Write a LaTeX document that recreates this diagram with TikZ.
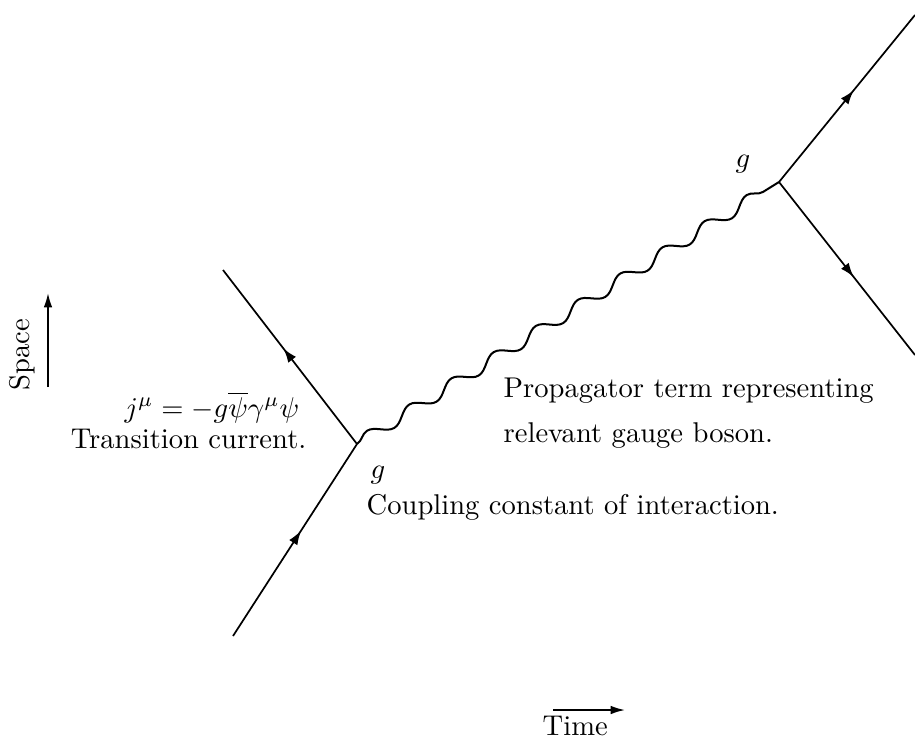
\documentclass[tikz,border=0pt]{standalone}
\usepackage{amsmath}
\usepackage{amsfonts}
\usepackage{tikz}
\usetikzlibrary{decorations.markings,decorations.pathmorphing,arrows.meta}

\tikzset{
  fermion/.style={line width=0.6pt,postaction={decorate},
    decoration={markings,mark=at position 0.55 with {\arrow{Latex[length=5pt,width=3.4pt]}}}},
  boson/.style={line width=0.7pt,decorate,
    decoration={snake,segment length=17.38pt,amplitude=2.1pt}},
  axisarrow/.style={line width=0.6pt,-{Latex[length=5pt,width=3pt]}},
  lbl/.style={inner sep=0.75pt}
}

\begin{document}
\begin{tikzpicture}[x=0.35pt,y=0.35pt,yscale=-1]
\useasboundingbox (0,0) rectangle (915,741);

%Vertices and free ends
\coordinate (vl) at (357,444);
\coordinate (vr) at (779,182);
\coordinate (inL) at (233,636);
\coordinate (outL) at (223,270);
\coordinate (outR) at (915,15);
\coordinate (outRb) at (915,355);

%Fermion lines
\draw [fermion] (inL) -- (vl);
\draw [fermion] (vl) -- (outL);
\draw [fermion] (vr) -- (outR);
\draw [fermion] (vr) -- (outRb);

%Propagator
\draw [boson] (vl) -- (vr);

% Text Node
\node [lbl,anchor=base] (gl) at (378,478) {$g$};
% Text Node
\node [lbl,anchor=base] (gr) at (743,167) {$g$};
% Text Node
\node [lbl,anchor=base east] (curr) at (302,417) {$j^\mu=-g\overline{\psi}\gamma^\mu\psi$};
% Text Node
\node [lbl,anchor=base east] (trans) at (309,448) {Transition current.};
% Text Node
\node [lbl,anchor=base west] (prop) at (501,397) {Propagator term representing};
% Text Node
\node [lbl,anchor=base west] (rel) at (501,442) {relevant gauge boson.};
% Text Node
\node [lbl,anchor=base west] (coup) at (364,514) {Coupling constant of interaction.};

%Axes
\node [lbl,rotate=90] (space) at (22,355) {Space};
\coordinate (sp0) at (48,387);
\coordinate (sp1) at (48,293);
\draw [axisarrow] (sp0) -- (sp1);
\node [lbl,anchor=base west] (time) at (540,735) {Time};
\coordinate (tm0) at (553,710);
\coordinate (tm1) at (625,710);
\draw [axisarrow] (tm0) -- (tm1);

\end{tikzpicture}
\end{document}
